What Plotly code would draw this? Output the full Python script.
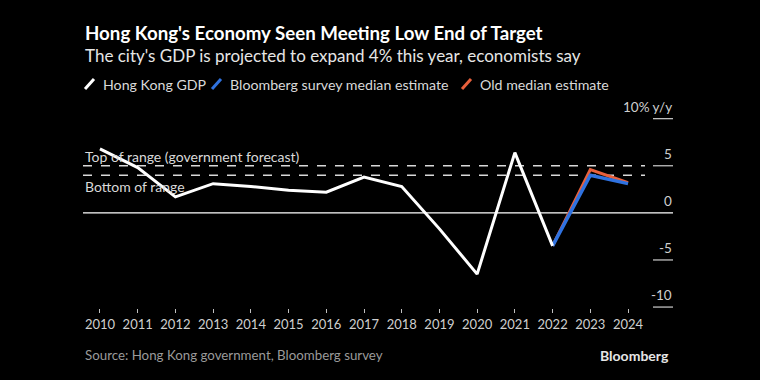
import plotly.graph_objects as go

years = list(range(2010, 2023))
hk_gdp = [6.8, 4.8, 1.7, 3.1, 2.8, 2.4, 2.2, 3.8, 2.8, -1.7, -6.5, 6.4, -3.5]

est_years = [2022, 2023, 2024]
survey_median = [-3.5, 4.0, 3.1]
old_median = [-3.5, 4.6, 3.2]

range_top = 5
range_bottom = 4

x_ticks = list(range(2010, 2025))
y_ticks = [10, 5, 0, -5, -10]
y_tick_labels = ["10% y/y", "5", "0", "-5", "-10"]

series_names = ["Hong Kong GDP", "Bloomberg survey median estimate", "Old median estimate"]
series_colors = ["#ffffff", "#2f72e0", "#e8603c"]

FONT = "Lato"
W, H = 760, 380
ml, mr, mt, mb = 83, W - 645, 113, 72
pw = W - ml - mr
ph = H - mt - mb

def pxx(px):
    return (px - ml) / pw

def pxy(py):
    return (H - mb - py) / ph

fig = go.Figure()
fig.add_trace(go.Scatter(x=est_years, y=old_median, mode="lines", name=series_names[2],
                         line=dict(color=series_colors[2], width=3)))
fig.add_trace(go.Scatter(x=est_years, y=survey_median, mode="lines", name=series_names[1],
                         line=dict(color=series_colors[1], width=3.5)))
fig.add_trace(go.Scatter(x=years, y=hk_gdp, mode="lines", name=series_names[0],
                         line=dict(color=series_colors[0], width=3)))

shapes = []
for v in (range_top, range_bottom):
    shapes.append(dict(type="line", xref="paper", yref="y", x0=0, x1=1, y0=v, y1=v,
                       line=dict(color="#d9d9d9", width=1.5, dash="dash"), layer="below"))
shapes.append(dict(type="line", xref="paper", yref="y", x0=0, x1=pxx(673), y0=0, y1=0,
                   line=dict(color="#ffffff", width=1.3), layer="below"))
annotations = []
for v, lab in zip(y_ticks, y_tick_labels):
    if v != 0:
        shapes.append(dict(type="line", xref="paper", yref="y", x0=pxx(653), x1=pxx(673),
                           y0=v, y1=v, line=dict(color="#bfbfbf", width=1.3)))
    annotations.append(dict(xref="paper", yref="y", x=pxx(674), y=v, yshift=12,
                            text=lab, showarrow=False, xanchor="right", yanchor="middle",
                            font=dict(family=FONT, size=13.5, color="#cfcfcf")))

# legend drawn as slanted colour strokes + labels
leg_x = [85, 212, 462]
for x0, name, col in zip(leg_x, series_names, series_colors):
    shapes.append(dict(type="line", xref="paper", yref="paper", x0=pxx(x0), x1=pxx(x0 + 9),
                       y0=pxy(89), y1=pxy(79), line=dict(color=col, width=3)))
    annotations.append(dict(xref="paper", yref="paper", x=pxx(x0 + 16), y=pxy(84), text=name,
                            showarrow=False, xanchor="left", yanchor="middle",
                            font=dict(family=FONT, size=14.2, color="#d9d9d9")))

annotations += [
    dict(xref="paper", yref="y", x=pxx(83), y=range_top, yshift=9, text="Top of range (government forecast)",
         showarrow=False, xanchor="left", yanchor="middle", font=dict(family=FONT, size=14, color="#d9d9d9")),
    dict(xref="paper", yref="y", x=pxx(83), y=range_bottom, yshift=-11, text="Bottom of range",
         showarrow=False, xanchor="left", yanchor="middle", font=dict(family=FONT, size=14, color="#d9d9d9")),
    dict(xref="paper", yref="paper", x=pxx(83), y=pxy(33),
         text="<b>Hong Kong's Economy Seen Meeting Low End of Target</b>", showarrow=False,
         xanchor="left", yanchor="middle", font=dict(family=FONT, size=18.7, color="#ffffff")),
    dict(xref="paper", yref="paper", x=pxx(83), y=pxy(56),
         text="The city's GDP is projected to expand 4% this year, economists say", showarrow=False,
         xanchor="left", yanchor="middle", font=dict(family=FONT, size=17, color="#e6e6e6")),
    dict(xref="paper", yref="paper", x=pxx(83), y=pxy(355),
         text="Source: Hong Kong government, Bloomberg survey", showarrow=False,
         xanchor="left", yanchor="middle", font=dict(family=FONT, size=13.3, color="#9a9a9a")),
    dict(xref="paper", yref="paper", x=pxx(671), y=pxy(355),
         text="<b>Bloomberg</b>", showarrow=False,
         xanchor="right", yanchor="middle", font=dict(family=FONT, size=14, color="#e6e6e6")),
]

fig.update_layout(
    width=W, height=H,
    margin=dict(l=ml, r=mr, t=mt, b=mb),
    paper_bgcolor="#000000", plot_bgcolor="#000000",
    font=dict(family=FONT, color="#cfcfcf"),
    showlegend=False,
    xaxis=dict(range=[2009.55, 2024.45], tickvals=x_ticks, ticktext=[str(y) for y in x_ticks],
               showgrid=False, zeroline=False, showline=False, ticks="outside", ticklen=4,
               tickcolor="#bfbfbf", tickfont=dict(family=FONT, size=13, color="#cfcfcf")),
    yaxis=dict(range=[-10.1, 10.6], showgrid=False, zeroline=False, showline=False,
               showticklabels=False, ticks=""),
    shapes=shapes, annotations=annotations,
)

fig.write_html("out.html", config={"displayModeBar": False},
               post_script="document.body.style.margin='0';document.body.style.background='#000';")
